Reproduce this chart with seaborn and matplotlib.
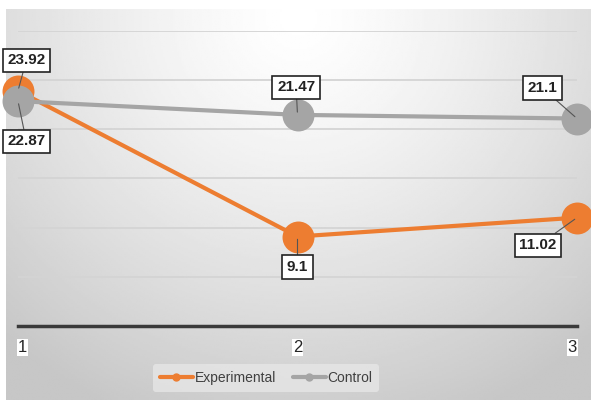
import numpy as np
import pandas as pd
import matplotlib.pyplot as plt
import seaborn as sns

# chart data
sessions = [1, 2, 3]
experimental = [23.92, 9.1, 11.02]
control = [22.87, 21.47, 21.1]
groups = ["Experimental", "Control"]
colors = ["#ED7D31", "#A5A5A5"]

df = pd.DataFrame({
    "session": sessions * 2,
    "score": experimental + control,
    "group": [groups[0]] * 3 + [groups[1]] * 3,
})

sns.set_style("white")
plt.rcParams["font.family"] = ["Liberation Sans Narrow", "Liberation Sans", "DejaVu Sans"]

fig = plt.figure(figsize=(5.91, 4.0), dpi=100)
fig.patch.set_facecolor("white")

# gradient background panel
bg = fig.add_axes([6 / 591, 0, 585 / 591, 391 / 400])
yy, xx = np.mgrid[0:1:200j, 0:1:300j]
dist = np.sqrt(((xx - 0.5) / 0.75) ** 2 + ((yy - 0.02) / 1.1) ** 2)
shade = 1.0 - 0.22 * np.clip(dist, 0, 1.0) ** 1.3
bg.imshow(shade, cmap="gray", vmin=0, vmax=1, aspect="auto", extent=[0, 1, 0, 1], origin="upper")
bg.axis("off")

ax = fig.add_axes([18 / 591, 74 / 400, 559 / 591, 295 / 400])
ax.patch.set_alpha(0)

sns.lineplot(data=df, x="session", y="score", hue="group", hue_order=groups,
             palette=colors, marker="o", markersize=23, markeredgewidth=0,
             linewidth=3, ax=ax, legend=False, clip_on=False, zorder=3)

ax.set_xlim(1, 3)
ax.set_ylim(0, 30)
ax.set_yticks([5, 10, 15, 20, 25, 30])
ax.yaxis.grid(True, color="#d4d4d4", linewidth=1.3)
ax.set_yticklabels([])
ax.tick_params(axis="y", length=0)
for s in ["top", "right", "left"]:
    ax.spines[s].set_visible(False)
ax.spines["bottom"].set_color("#3a3a3a")
ax.spines["bottom"].set_linewidth(2.5)
ax.set_xlabel("")
ax.set_ylabel("")

ax.set_xticks(sessions)
ax.set_xticklabels([str(s) for s in sessions], fontsize=12)
ax.tick_params(axis="x", length=0, pad=10)
for lbl, ha in zip(ax.get_xticklabels(), ["left", "center", "right"]):
    lbl.set_horizontalalignment(ha)
    lbl.set_bbox(dict(facecolor="white", edgecolor="none", pad=0.5))

# data labels (offsets in points)
box = dict(boxstyle="square,pad=0.3", facecolor="white", edgecolor="#222222", linewidth=1.2)
offsets = {
    "Experimental": [(6, 22), (0, -22), (-28, -20)],
    "Control": [(6, -29), (-1, 20), (-25, 22)],
}
series = {"Experimental": experimental, "Control": control}
for g in groups:
    for x, y, off in zip(sessions, series[g], offsets[g]):
        ax.annotate(f"{y:g}", (x, y), xytext=off, textcoords="offset points",
                    ha="center", va="center", fontsize=11, fontweight="bold",
                    color="#222222", bbox=box, zorder=5,
                    arrowprops=dict(arrowstyle="-", color="#555555", linewidth=0.8,
                                    shrinkA=0, shrinkB=2))

handles = [plt.Line2D([], [], color=c, linewidth=3, marker="o", markersize=5) for c in colors]
leg = fig.legend(handles, groups, loc="center", bbox_to_anchor=(266 / 591, 1 - 378 / 400),
                 ncol=2, frameon=True, fontsize=10, handlelength=2.4, columnspacing=1.2,
                 handletextpad=0.1, borderpad=0.5)
leg.get_frame().set_facecolor("#e6e6e6")
leg.get_frame().set_edgecolor("none")
leg.get_frame().set_alpha(0.8)
for t in leg.get_texts():
    t.set_color("#404040")

fig.savefig("out.png", dpi=100)
